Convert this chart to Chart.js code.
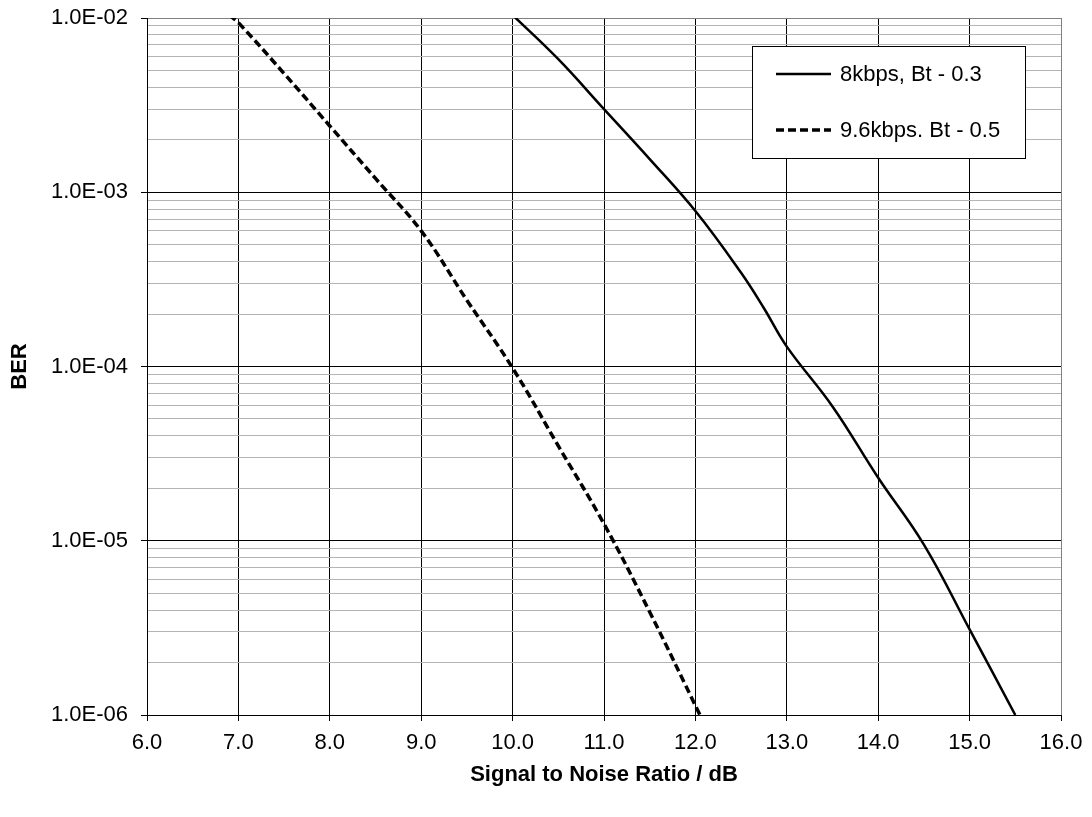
<!DOCTYPE html>
<html>
<head>
<meta charset="utf-8">
<title>BER vs SNR</title>
<script src="https://cdn.jsdelivr.net/npm/chart.js@4.4.1/dist/chart.umd.min.js"></script>
<style>
  html, body { margin: 0; padding: 0; background: #ffffff; }
  canvas { display: block; }
</style>
</head>
<body>
<canvas id="ber-chart" width="1092" height="817"></canvas>
<script>
// values
const snrSolid = [10.0, 10.5, 11.0, 11.5, 12.0, 12.5, 12.75, 13.0, 13.5, 14.0, 14.5, 15.0, 15.5];
const berSolid = [1.04e-2, 5.8e-3, 3.0e-3, 1.55e-3, 7.8e-4, 3.45e-4, 2.16e-4, 1.3e-4, 5.9e-5, 2.3e-5, 9.5e-6, 3.1e-6, 1.0e-6];

const snrDashed = [6.9, 7.0, 7.5, 8.0, 8.5, 9.0, 9.5, 10.0, 10.5, 11.0, 11.5, 12.05];
const berDashed = [1.04e-2, 9.4e-3, 4.8e-3, 2.4e-3, 1.2e-3, 6.0e-4, 2.4e-4, 9.8e-5, 3.5e-5, 1.25e-5, 3.9e-6, 1.0e-6];

const seriesLabels = ['8kbps, Bt - 0.3', '9.6kbps. Bt - 0.5'];

const yMajorTicks = [1e-6, 1e-5, 1e-4, 1e-3, 1e-2];
const yTickLabels = ['1.0E-06', '1.0E-05', '1.0E-04', '1.0E-03', '1.0E-02'];
const yMinorSteps = [2, 3, 4, 5, 6, 7, 8, 9];

const FONT = "'Liberation Sans', Arial, sans-serif";

function toPoints(xs, ys) {
    return xs.map((x, i) => ({ x: x, y: ys[i] }));
}

function isMajorLog(v) {
    const l = Math.log10(v);
    return Math.abs(l - Math.round(l)) < 1e-9;
}

// legend box drawn inside the plot, top right
const boxLegend = {
    id: 'boxLegend',
    afterDraw(chart) {
        const ctx = chart.ctx;
        const left = 752, top = 46, width = 273, height = 112;
        ctx.save();
        ctx.fillStyle = '#ffffff';
        ctx.fillRect(left, top, width, height);
        ctx.strokeStyle = '#000000';
        ctx.lineWidth = 1;
        ctx.strokeRect(left + 0.5, top + 0.5, width, height);

        ctx.font = '22px ' + FONT;
        ctx.textBaseline = 'middle';
        ctx.textAlign = 'left';
        ctx.fillStyle = '#000000';

        chart.data.datasets.forEach((ds, i) => {
            const y = top + 28 + i * 56;
            ctx.beginPath();
            ctx.lineWidth = ds.borderWidth;
            ctx.setLineDash(ds.borderDash || []);
            ctx.moveTo(776, y);
            ctx.lineTo(831, y);
            ctx.stroke();
            ctx.setLineDash([]);
            ctx.fillText(ds.label, 840, y + 1);
        });
        ctx.restore();
    }
};

new Chart(document.getElementById('ber-chart'), {
    type: 'line',
    data: {
        datasets: [{
            label: seriesLabels[0],
            data: toPoints(snrSolid, berSolid),
            borderColor: '#000000',
            borderWidth: 2.5,
            pointRadius: 0,
            tension: 0.4,
            clip: 0
        }, {
            label: seriesLabels[1],
            data: toPoints(snrDashed, berDashed),
            borderColor: '#000000',
            borderWidth: 3.5,
            borderDash: [8, 4],
            pointRadius: 0,
            tension: 0.4,
            clip: 0
        }]
    },
    options: {
        responsive: false,
        animation: false,
        layout: { padding: { top: 18, right: 31, bottom: 0, left: 0 } },
        plugins: {
            legend: { display: false },
            tooltip: { enabled: false }
        },
        scales: {
            x: {
                type: 'linear',
                min: 6,
                max: 16,
                afterFit: (scale) => {
                    scale.height = 102;
                    scale.paddingLeft = 0;
                    scale.paddingRight = 0;
                },
                ticks: {
                    stepSize: 1,
                    color: '#000000',
                    padding: 9,
                    font: { family: FONT, size: 22 },
                    callback: (v) => Number(v).toFixed(1)
                },
                grid: {
                    color: (c) => (c.tick && c.tick.value === 16) ? '#808080' : '#000000',
                    tickColor: '#000000',
                    tickLength: 6,
                    lineWidth: 1
                },
                border: { color: '#000000', width: 1 },
                title: {
                    display: true,
                    text: 'Signal to Noise Ratio / dB',
                    color: '#000000',
                    font: { family: FONT, size: 22, weight: 'bold' },
                    padding: { top: 29, bottom: 29 }
                }
            },
            y: {
                type: 'logarithmic',
                min: 1e-6,
                max: 1e-2,
                afterFit: (scale) => {
                    scale.width = 147;
                    scale.paddingTop = 0;
                    scale.paddingBottom = 0;
                },
                afterBuildTicks: (scale) => {
                    const ticks = [];
                    for (let d = 0; d < yMajorTicks.length; d++) {
                        ticks.push({ value: yMajorTicks[d], major: true });
                        if (d < yMajorTicks.length - 1) {
                            yMinorSteps.forEach((m) => ticks.push({ value: yMajorTicks[d] * m, major: false }));
                        }
                    }
                    scale.ticks = ticks;
                },
                ticks: {
                    autoSkip: false,
                    color: '#000000',
                    padding: 13,
                    font: { family: FONT, size: 22 },
                    callback: (v) => {
                        const i = yMajorTicks.findIndex((t) => Math.abs(t - v) / t < 1e-6);
                        return i >= 0 ? yTickLabels[i] : '';
                    }
                },
                grid: {
                    color: (c) => {
                        if (!c.tick) return '#b4b4b4';
                        if (Math.abs(c.tick.value - 1e-2) < 1e-12) return '#808080';
                        return isMajorLog(c.tick.value) ? '#000000' : '#b4b4b4';
                    },
                    tickColor: (c) => (c.tick && isMajorLog(c.tick.value)) ? '#000000' : 'rgba(0,0,0,0)',
                    tickLength: 6,
                    lineWidth: 1
                },
                border: { color: '#000000', width: 1 },
                title: {
                    display: true,
                    text: 'BER',
                    color: '#000000',
                    font: { family: FONT, size: 22, weight: 'bold' },
                    padding: { top: 7, bottom: 0 }
                }
            }
        }
    },
    plugins: [boxLegend]
});
</script>
</body>
</html>
